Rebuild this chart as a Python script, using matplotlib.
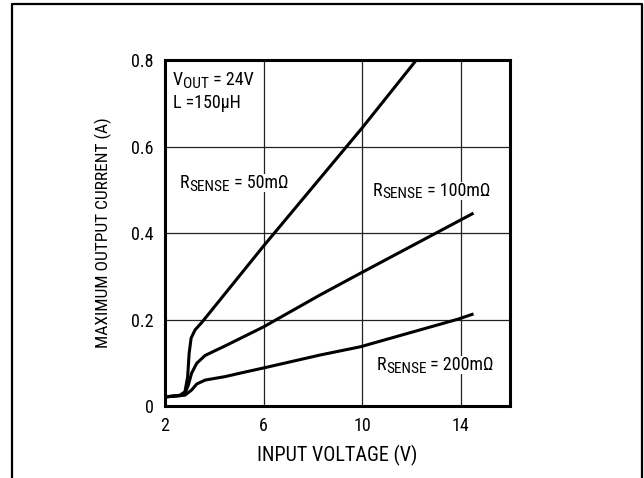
import matplotlib
matplotlib.use("Agg")
import matplotlib.pyplot as plt
from matplotlib import font_manager
from matplotlib.lines import Line2D

# a condensed sans is closest to the original; fall back to Liberation Sans
installed = {f.name for f in font_manager.fontManager.ttflist}
narrow = [n for n in ['Roboto Condensed', 'Liberation Sans Narrow', 'Open Sans Condensed']
          if n in installed]
if narrow:
    plt.rcParams['font.family'] = [narrow[0], 'DejaVu Sans']
    FS = 13
else:
    plt.rcParams['font.family'] = ['Liberation Sans', 'DejaVu Sans']
    FS = 11

# input voltage (V) vs max output current (A)
vin_50 = [2.0, 2.61, 2.81, 2.92, 2.98, 3.06, 3.22, 3.49, 3.83, 6.0, 10.0, 12.2]
iout_50 = [0.021, 0.025, 0.033, 0.068, 0.122, 0.157, 0.176, 0.193, 0.217, 0.37, 0.643, 0.8]

vin_100 = [2.0, 2.61, 2.81, 2.95, 3.08, 3.29, 3.63, 4.44, 6.0, 8.3, 9.93, 14.52]
iout_100 = [0.021, 0.024, 0.029, 0.049, 0.076, 0.099, 0.117, 0.139, 0.183, 0.257, 0.307, 0.446]

vin_200 = [2.0, 2.61, 2.81, 3.08, 3.29, 3.63, 4.44, 5.05, 6.0, 8.3, 9.93, 13.9, 14.52]
iout_200 = [0.021, 0.024, 0.025, 0.037, 0.051, 0.060, 0.068, 0.076, 0.088, 0.118, 0.137, 0.201, 0.213]

x_ticks = [2, 6, 10, 14]
y_ticks = [0, 0.2, 0.4, 0.6, 0.8]
y_tick_labels = ['0', '0.2', '0.4', '0.6', '0.8']


def sub_label(ax, x, y, main, sub, rest):
    """Text with a lowered, slightly smaller subscript, e.g. R_SENSE = 50mΩ"""
    t1 = ax.text(x, y, main, fontsize=FS, va='baseline', ha='left',
                 bbox=dict(facecolor='white', edgecolor='none', pad=1.0))
    box = dict(facecolor='white', edgecolor='none', pad=0.1)
    t2 = ax.annotate(sub, xy=(1, 0), xycoords=t1, xytext=(0, -1.2),
                     textcoords='offset points', fontsize=FS * 0.85,
                     va='bottom', ha='left', bbox=box)
    ax.annotate(rest, xy=(1, 0), xycoords=t2, xytext=(0, 1.2),
                textcoords='offset points', fontsize=FS,
                va='bottom', ha='left', bbox=box)


fig = plt.figure(figsize=(6.44, 4.78), dpi=100)
ax = fig.add_axes([0.2562, 0.1506, 0.5357, 0.7238])

for vx, iy in [(vin_50, iout_50), (vin_100, iout_100), (vin_200, iout_200)]:
    ax.plot(vx, iy, color='black', lw=2.2, solid_joinstyle='round',
            solid_capstyle='butt', zorder=3)

ax.set_xlim(2, 16)
ax.set_ylim(0, 0.8)
ax.set_xticks(x_ticks)
ax.set_yticks(y_ticks)
ax.set_yticklabels(y_tick_labels)
ax.tick_params(length=0, labelsize=FS)
ax.tick_params(axis='x', pad=8)
ax.tick_params(axis='y', pad=8)
ax.grid(color='#222222', lw=0.9)
ax.set_axisbelow(True)
for s in ax.spines.values():
    s.set_linewidth(2.2)

ax.set_xlabel('INPUT VOLTAGE (V)', fontsize=FS + 1.5, labelpad=7)
ax.set_ylabel('MAXIMUM OUTPUT CURRENT (A)', fontsize=FS - 0.5, labelpad=14)

sub_label(ax, 2.33, 0.742, 'V', 'OUT', ' = 24V')
ax.text(2.33, 0.689, 'L =150\u03bcH', fontsize=FS, va='baseline', ha='left')
sub_label(ax, 2.61, 0.504, 'R', 'SENSE', ' = 50m\u03a9')
sub_label(ax, 10.44, 0.486, 'R', 'SENSE', ' = 100m\u03a9')
sub_label(ax, 10.58, 0.083, 'R', 'SENSE', ' = 200m\u03a9')

# outer frame, open at the bottom
x0, x1, y1 = 12 / 644, 641.5 / 644, 1 - 4 / 478
fig.add_artist(Line2D([x0, x0, x1, x1], [-0.1, y1, y1, -0.1],
                      transform=fig.transFigure, color='black', lw=1.6))

fig.savefig('out.png', dpi=100)
